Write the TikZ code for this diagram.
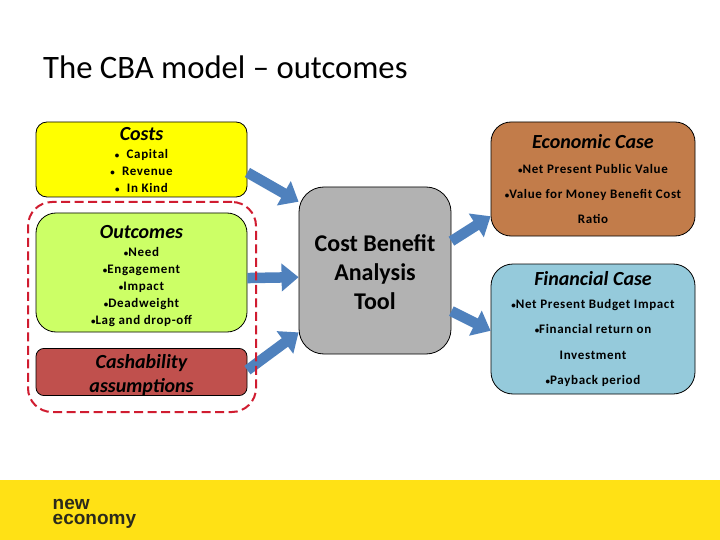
\documentclass[tikz,border=0pt]{standalone}
\usepackage{fontspec}
\setmainfont{Carlito}
\newfontfamily\logofont{Liberation Sans}
\newfontfamily\spaced[LetterSpace=5]{Carlito}
\usetikzlibrary{arrows.meta}
\definecolor{flowblue}{HTML}{4F81BD}
\definecolor{dashred}{HTML}{D01C30}
\definecolor{costy}{HTML}{FFFF00}
\definecolor{outg}{HTML}{CCFF66}
\definecolor{cashr}{HTML}{C0504D}
\definecolor{toolg}{HTML}{B2B2B2}
\definecolor{econ}{HTML}{C27C4A}
\definecolor{finb}{HTML}{95CADB}
\definecolor{footy}{HTML}{FFE115}
\definecolor{logok}{HTML}{2B2A1C}
\newcommand{\hd}[1]{{\rmfamily\fontsize{20}{22}\selectfont\itshape\bfseries #1}}
\newcommand{\bl}{{\fontsize{9}{9}\selectfont •}}
\tikzset{
  box/.style={draw=black,line width=0.8pt,align=center,inner sep=0pt,anchor=center,text=black},
  tight/.style={font=\spaced\fontsize{13}{17}\selectfont\bfseries},
  wide/.style={font=\spaced\fontsize{13}{25.3}\selectfont\bfseries},
  flow/.style={draw=flowblue,line width=10.5pt,-{Triangle[length=17pt,width=27pt]}},
  redline/.style={draw=dashred,line width=2pt,dash pattern=on 9pt off 4.5pt,rounded corners=24pt}
}
\begin{document}
\begin{tikzpicture}[x=1pt,y=-1pt]
\useasboundingbox (0,0) rectangle (720,540);
\fill[white] (0,0) rectangle (720,540);
\fill[footy] (0,480) rectangle (720,540);

\node[anchor=base west,inner sep=0pt,font=\fontsize{32.7}{36}\selectfont] (title) at (43,78.5) {The CBA model – outcomes};

\node[box,tight,fill=costy,rounded corners=11pt,minimum width=211pt,minimum height=75pt] (costs) at (141.5,159.5)
  {\hd{Costs}\\[1pt] \bl{} \ Capital\\ \bl{} \ Revenue\\ \bl{} \ In Kind};
\node[box,tight,fill=outg,rounded corners=20pt,minimum width=211pt,minimum height=119pt] (outcomes) at (141.5,272.5)
  {\rule{0pt}{20pt}\hd{Outcomes}\\[1pt] \bl{}Need\\ \bl{}Engagement\\ \bl{}Impact\\ \bl{}Deadweight\\ \bl{}Lag and drop-off};
\node[box,fill=cashr,rounded corners=8pt,minimum width=211pt,minimum height=46pt,font=\fontsize{20}{24}\selectfont\itshape\bfseries] (cash) at (141.5,372)
  {\rule{0pt}{20pt}Cashability\\ assumptions};
\node[box,fill=toolg,rounded corners=25pt,minimum width=152pt,minimum height=167pt,font=\fontsize{24}{29}\selectfont\bfseries] (tool) at (375,270.5)
  {\rule{0pt}{20pt}Cost Benefit\\ Analysis\\ Tool};
\node[box,wide,fill=econ,rounded corners=20pt,minimum width=204pt,minimum height=114pt] (eco) at (593,179)
  {\hd{Economic Case}\\ \bl{}Net Present Public Value\\ \bl{}Value for Money Benefit Cost\\ Ratio};
\node[box,wide,fill=finb,rounded corners=22pt,minimum width=204pt,minimum height=130pt] (fin) at (593,329)
  {\raisebox{-2.5pt}{\hd{Financial Case}}\\ \bl{}Net Present Budget Impact\\ \bl{}Financial return on\\ Investment\\ \bl{}Payback period};

\draw[flow] (costs.-7) -- (tool.138);
\draw[flow] (outcomes.-3) -- (tool.185.6);
\draw[flow] (cash.1) -- (tool.219.3);
\draw[flow] (tool.21.2) -- (eco.200);
\draw[flow] (tool.-28.6) -- (fin.181.7);

\node[redline,minimum width=228pt,minimum height=210pt,inner sep=0pt] (group) at (142,307) {};

\node[anchor=base west,inner sep=0pt,text=logok,align=left,font=\logofont\bfseries\fontsize{19}{15}\selectfont] (logo) at (52.5,524) {new\\economy};
\end{tikzpicture}
\end{document}
